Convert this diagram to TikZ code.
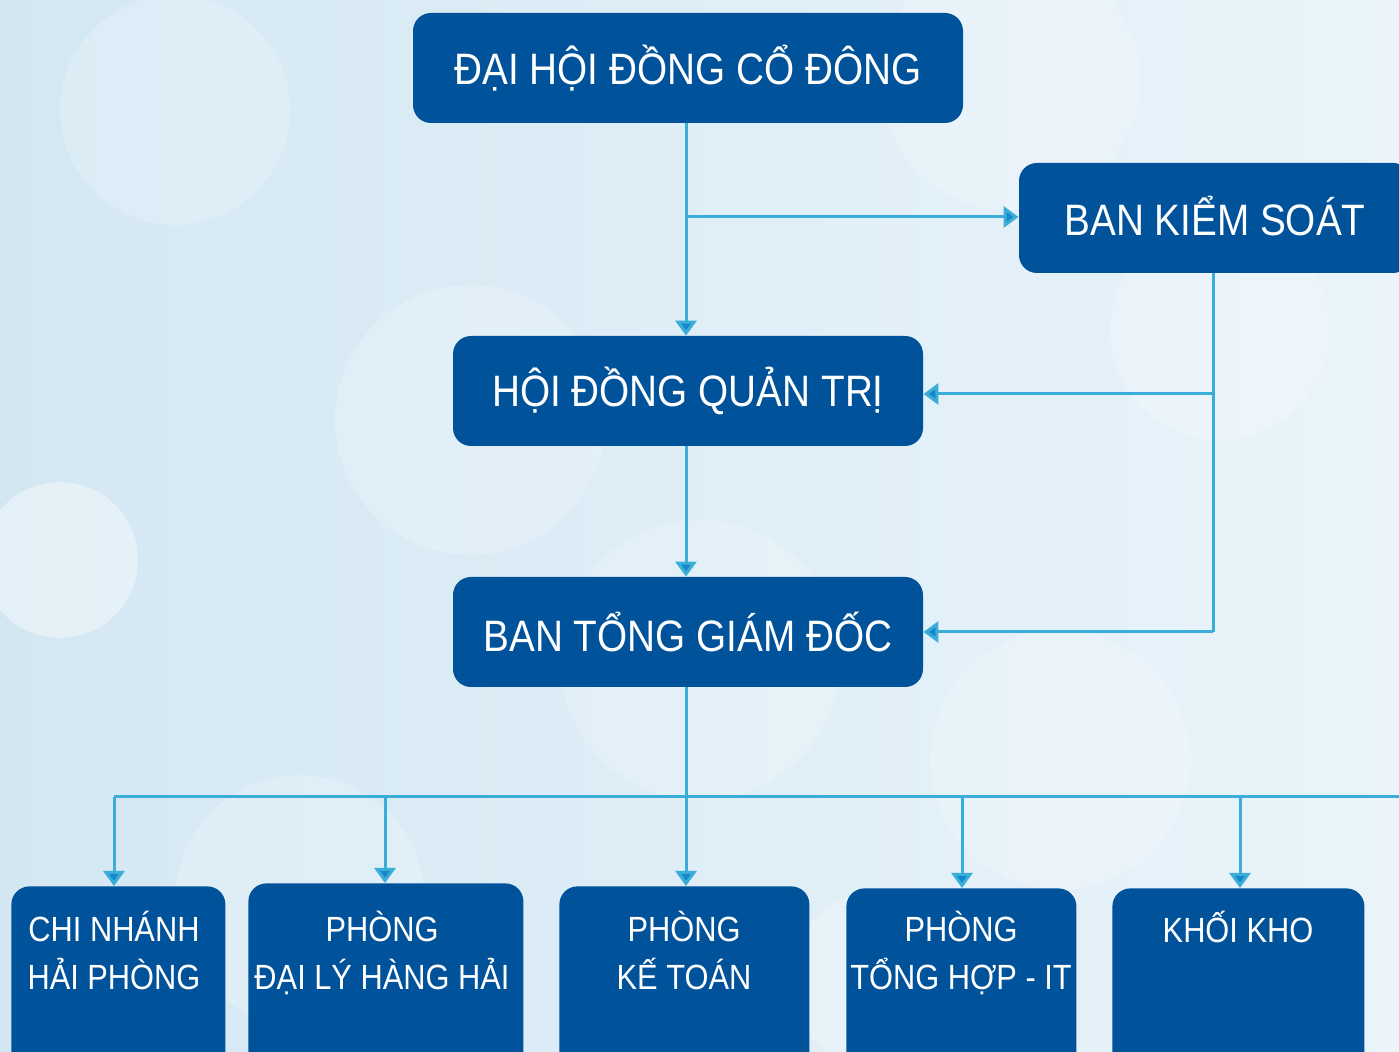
\documentclass[tikz,border=0pt]{standalone}
\usepackage{fontspec}
\setmainfont{Liberation Sans}[FakeStretch=0.88]
\usetikzlibrary{arrows.meta}
\definecolor{boxblue}{HTML}{00529B}
\definecolor{linkblue}{HTML}{3AAED8}
\definecolor{tipblue}{HTML}{1687C9}
\definecolor{bgA}{HTML}{D3E7F3}
\definecolor{bgB}{HTML}{EAF4FA}
\begin{document}
\begin{tikzpicture}[x=0.5pt,y=-0.5pt,
  box/.style={fill=boxblue, rounded corners=9pt, inner sep=0pt},
  bigtext/.style={text=white, font=\fontsize{22}{26}\selectfont},
  smalltext/.style={text=white, font=\fontsize{17.5}{24}\selectfont, align=center},
  link/.style={draw=linkblue, line width=1.5pt},
  arr/.style={link, -{Triangle[length=7.5pt,width=10.5pt,fill=tipblue]}},
  bubble/.style={fill=white, opacity=0.2}]
\useasboundingbox (0,0) rectangle (1399,1052);
\clip (0,0) rectangle (1399,1052);
% background
\shade[left color=bgA, right color=bgB] (0,0) rectangle (1399,1052);
\fill[bubble] (175,110) circle (115);
\fill[bubble] (470,420) circle (135);
\fill[white, opacity=0.4] (60,560) circle (78);
\fill[bubble] (1010,80) circle (130);
\fill[bubble] (700,660) circle (140);
\fill[bubble] (1060,760) circle (130);
\fill[bubble] (300,900) circle (125);
\fill[bubble] (1220,330) circle (110);
\fill[bubble] (880,980) circle (90);
% boxes
\node[box, bigtext, minimum width=275pt, minimum height=55pt] (dh) at (688,68) {ĐẠI HỘI ĐỒNG CỔ ĐÔNG};
\node[box, minimum width=196pt, minimum height=55pt] (bks) at (1215,218) {};
\node[bigtext] (bkst) at (1215,216) {BAN KIỂM SOÁT};
\node[box, bigtext, minimum width=235pt, minimum height=55pt] (hd) at (688,391) {HỘI ĐỒNG QUẢN TRỊ};
\node[box, bigtext, minimum width=235pt, minimum height=55pt] (tg) at (688,632) {BAN TỔNG GIÁM ĐỐC};
% bottom boxes
\node[box, anchor=north west, minimum width=107pt, minimum height=100pt] (b1) at (11,886) {};
\node[box, anchor=north west, minimum width=137.5pt, minimum height=100pt] (b2) at (248,883) {};
\node[box, anchor=north west, minimum width=125pt, minimum height=100pt] (b3) at (559,886) {};
\node[box, anchor=north west, minimum width=115pt, minimum height=100pt] (b4) at (846,888) {};
\node[box, anchor=north west, minimum width=126pt, minimum height=100pt] (b5) at (1112,888) {};
\node[smalltext, anchor=north] (t1) at (114,904) {CHI NHÁNH\\HẢI PHÒNG};
\node[smalltext, anchor=north] (t2) at (382,904) {PHÒNG\\ĐẠI LÝ HÀNG HẢI};
\node[smalltext, anchor=north] (t3) at (684,904) {PHÒNG\\KẾ TOÁN};
\node[smalltext, anchor=north] (t4) at (961,904) {PHÒNG\\TỔNG HỢP - IT};
\node[smalltext, anchor=north] (t5) at (1238,904) {KHỐI KHO};
% connectors
\coordinate (j1) at (686,217);
\coordinate (bkx) at (1213,0);
\coordinate (hdin) at (923,394);
\coordinate (bus) at (686,797);
\coordinate (busL) at (114,797);
\coordinate (busR) at (1399,797);
\coordinate (d2) at (385,797);
\coordinate (d4) at (962,797);
\coordinate (d5) at (1240,797);
\draw[arr] (dh.south -| j1) -- (hd.north -| j1);
\draw[arr] (j1) -- (j1 -| bks.west);
\draw[link] (bks.south -| bkx) -- (tg.east -| bkx);
\draw[arr] (hdin -| bkx) -- (hdin -| hd.east);
\draw[arr] (tg.east -| bkx) -- (tg.east);
\draw[arr] (hd.south -| j1) -- (tg.north -| j1);
\draw[link] (tg.south -| j1) -- (bus);
\draw[link] (busL) -- (busR);
\draw[arr] (busL) -- (b1.north -| busL);
\draw[arr] (d2) -- (b2.north -| d2);
\draw[arr] (bus) -- (b3.north -| bus);
\draw[arr] (d4) -- (b4.north -| d4);
\draw[arr] (d5) -- (b5.north -| d5);
\end{tikzpicture}
\end{document}
